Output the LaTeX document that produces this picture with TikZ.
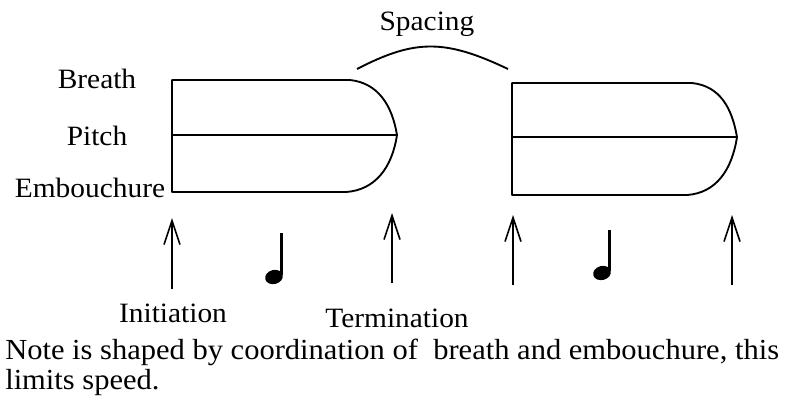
\documentclass[tikz,border=0pt]{standalone}
\usepackage{fontspec}
\setmainfont[FakeStretch=1.05]{Liberation Serif}
\usetikzlibrary{arrows.meta}

\begin{document}
\begin{tikzpicture}[x=0.75pt,y=-0.75pt]
        \tikzstyle{lbl}=[inner sep=0pt,anchor=base,font=\fontsize{21}{25}\selectfont]
        \tikzstyle{outline}=[line width=1.4pt,line join=round]
        \tikzstyle{up}=[line width=1.2pt,-{Straight Barb[length=18pt,width=12pt]}]
        \useasboundingbox (0,0) rectangle (786,408);
        % first note
        \coordinate (tipA) at (397,135);
        \draw[outline] (350,80) -- (172,80) -- (172,192) -- (346,192)
          .. controls (375,190) and (392,168) .. (tipA)
          .. controls (392,105) and (378,83) .. (350,80);
        \draw[outline] (172,135) -- (tipA);
        % second note
        \coordinate (tipB) at (737,137);
        \draw[outline] (692,83) -- (512,83) -- (512,195) -- (687,195)
          .. controls (716,193) and (732,170) .. (tipB)
          .. controls (732,108) and (720,86) .. (692,83);
        \draw[outline] (512,137) -- (tipB);
        % spacing
        \coordinate (spA) at (357,69);
        \coordinate (spB) at (508,69);
        \draw[outline] (spA) .. controls (415,39) and (445,39) .. (spB);
        \node[lbl] (spacing) at (427,30) {Spacing};
        % side labels
        \node[lbl] (breath) at (97,88) {Breath};
        \node[lbl] (pitch) at (97,145) {Pitch};
        \node[lbl] (emb) at (90,197) {Embouchure};
        % arrows
        \coordinate (initBot) at (172,289);
        \coordinate (initTop) at (172,218);
        \coordinate (termBot) at (392,283);
        \coordinate (termTop) at (392,213);
        \coordinate (initBotB) at (513,285);
        \coordinate (initTopB) at (513,215);
        \coordinate (termBotB) at (732,285);
        \coordinate (termTopB) at (732,215);
        \draw[up] (initBot) -- (initTop);
        \draw[up] (termBot) -- (termTop);
        \draw[up] (initBotB) -- (initTopB);
        \draw[up] (termBotB) -- (termTopB);
        % quarter notes
        \fill[shift={(274,277)},rotate=15] (0,0) ellipse [x radius=9,y radius=7];
        \draw[line width=2.4pt] (281.5,275) -- (281.5,233);
        \fill[shift={(602,273)},rotate=15] (0,0) ellipse [x radius=9,y radius=7];
        \draw[line width=2.4pt] (609.5,271) -- (609.5,230);
        \node[lbl] (init) at (173,322) {Initiation};
        \node[lbl] (term) at (397,327) {Termination};
        % caption
        \node[lbl,anchor=base west,font=\fontsize{21.8}{26}\selectfont] (cap1) at (5,359) {Note is shaped by coordination of\ \ breath and embouchure, this};
        \node[lbl,anchor=base west,font=\fontsize{21.8}{26}\selectfont] (cap2) at (5,389) {limits speed.};
\end{tikzpicture}
\end{document}
